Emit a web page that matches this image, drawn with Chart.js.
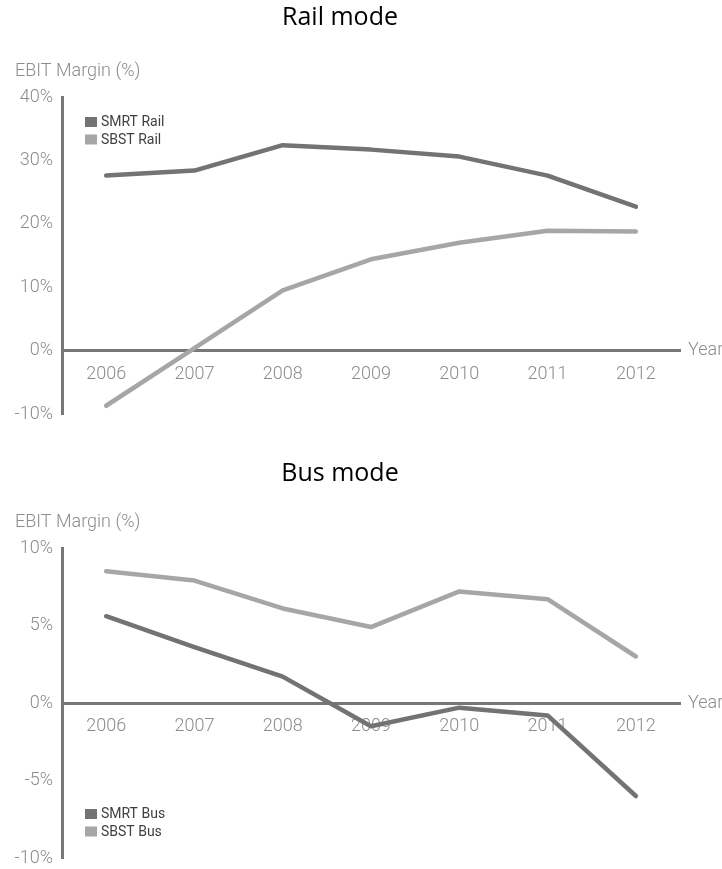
<!DOCTYPE html>
<html>
<head>
<meta charset="utf-8">
<script src="https://cdn.jsdelivr.net/npm/chart.js@4.4.1/dist/chart.umd.min.js"></script>
<style>
  html, body { margin: 0; padding: 0; background: #fff; }
  canvas { display: block; }
</style>
</head>
<body>
<canvas id="rail" width="722" height="435"></canvas>
<canvas id="bus" width="722" height="434"></canvas>
<script>
var years = ['2006', '2007', '2008', '2009', '2010', '2011', '2012'];

var smrtRail = [27.6, 28.4, 32.4, 31.7, 30.6, 27.6, 22.7];
var sbstRail = [-8.7, 0.4, 9.5, 14.4, 17.0, 18.9, 18.8];

var smrtBus = [5.6, 3.6, 1.7, -1.5, -0.3, -0.8, -6.0];
var sbstBus = [8.5, 7.9, 6.1, 4.9, 7.2, 6.7, 3.0];

var railTicks = [-10, 0, 10, 20, 30, 40];
var busTicks = [-10, -5, 0, 5, 10];

var darkGrey = '#737373';
var lightGrey = '#a6a6a6';
var axisGrey = '#777777';
var textGrey = '#8c8c8c';

// axis titles + legend drawn inside the plot area
var decor = {
    id: 'decor',
    afterDatasetsDraw: function (chart, args, opts) {
        var ctx = chart.ctx;
        var area = chart.chartArea;
        var y0 = chart.scales.y.getPixelForValue(0);
        ctx.save();
        ctx.font = '300 18px Roboto';
        ctx.fillStyle = textGrey;
        ctx.textAlign = 'left';
        ctx.textBaseline = 'alphabetic';
        ctx.fillText(opts.yTitle, 15, area.top - 21);
        ctx.textBaseline = 'middle';
        ctx.fillText(opts.xTitle, area.right + 8, y0);

        var top = opts.legendAt === 'top' ? area.top + 20 : area.bottom - 49;
        ctx.font = '14px Roboto';
        chart.data.datasets.forEach(function (d, i) {
            var y = top + i * 17.5;
            ctx.fillStyle = d.borderColor;
            ctx.fillRect(area.left + 23, y, 12, 10);
            ctx.fillStyle = '#404040';
            ctx.fillText(d.label, area.left + 39, y + 5.5);
        });
        ctx.restore();
    }
};

function makeChart(id, title, titleTop, titleBottom, labels, sets, ticks, step, padBottom, legendAt) {
    return new Chart(document.getElementById(id).getContext('2d'), {
        type: 'line',
        data: {
            labels: labels,
            datasets: sets.map(function (s) {
                return {
                    label: s[0],
                    data: s[1],
                    borderColor: s[2],
                    backgroundColor: s[2],
                    borderWidth: 4.5,
                    borderCapStyle: 'round',
                    borderJoinStyle: 'round',
                    pointRadius: 0,
                    tension: 0,
                    fill: false
                };
            })
        },
        options: {
            responsive: false,
            animation: false,
            devicePixelRatio: 1,
            layout: { padding: { left: 0, right: 42, top: 0, bottom: padBottom } },
            plugins: {
                legend: { display: false },
                tooltip: { enabled: false },
                title: {
                    display: true,
                    text: title,
                    color: '#000',
                    font: { family: 'Open Sans', size: 25, weight: 'normal', lineHeight: 1.2 },
                    padding: { top: titleTop, bottom: titleBottom }
                },
                decor: { yTitle: 'EBIT Margin (%)', xTitle: 'Year', legendAt: legendAt }
            },
            scales: {
                x: {
                    position: { y: 0 },
                    offset: true,
                    grid: { display: false, drawTicks: false },
                    border: { display: true, color: axisGrey, width: 3 },
                    ticks: {
                        color: textGrey,
                        padding: 13,
                        maxRotation: 0,
                        font: { family: 'Roboto', size: 18, weight: 300 }
                    }
                },
                y: {
                    min: ticks[0],
                    max: ticks[ticks.length - 1],
                    grid: { display: false, drawTicks: false },
                    border: { display: true, color: axisGrey, width: 3 },
                    afterFit: function (scale) {
                        scale.width = 62;
                        scale.paddingTop = 0;
                        scale.paddingBottom = 0;
                    },
                    ticks: {
                        stepSize: step,
                        color: textGrey,
                        padding: 9,
                        font: { family: 'Roboto', size: 18, weight: 300 },
                        callback: function (v) { return v + '%'; }
                    }
                }
            }
        },
        plugins: [decor]
    });
}

makeChart('rail', 'Rail mode', 3, 64, years,
    [['SMRT Rail', smrtRail, darkGrey], ['SBST Rail', sbstRail, lightGrey]],
    railTicks, 10, 21, 'top');

makeChart('bus', 'Bus mode', 24, 59, years,
    [['SMRT Bus', smrtBus, darkGrey], ['SBST Bus', sbstBus, lightGrey]],
    busTicks, 5, 11, 'bottom');
</script>
</body>
</html>
